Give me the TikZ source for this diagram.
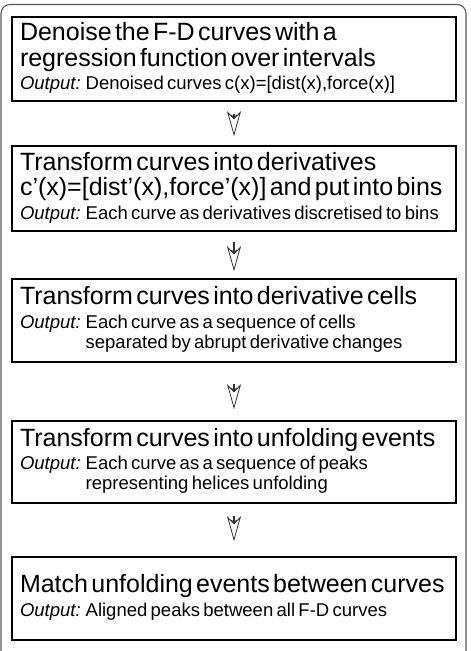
\documentclass[tikz,border=0pt]{standalone}
\usepackage{fontspec}
\setmainfont{Liberation Sans}
\usetikzlibrary{arrows.meta}

\newcommand{\headtext}[1]{{\fontsize{25}{25.5}\selectfont #1\par}\vspace{3.5pt}}
\newcommand{\outtext}[1]{{\fontsize{18.5}{20}\selectfont\textit{Output:} \begin{tabular}[t]{@{}l@{}}#1\end{tabular}\par}}

\begin{document}
\begin{tikzpicture}[x=1pt, y=-1pt]
 \tikzset{
stage/.style = {rectangle, draw=black, line width=1.6pt, minimum width=444pt, text width=428pt, inner xsep=8pt, inner ysep=0pt, align=left},
frame/.style = {draw=black!65, line width=1.1pt, rounded corners=9pt},
flow/.style = {-{Straight Barb[length=2.5pt, width=6pt, sep=-7pt, line width=1pt]Stealth[open, length=25pt, width=14pt, inset=7pt, line width=0.8pt]}, draw=black!80, line width=1.3pt}}

    \clip (0,0) rectangle (471,651);
    \useasboundingbox (0,0) rectangle (471,651);
    \draw [frame] (1,4.5) rectangle (466,690);

    \node [stage] (DN) [minimum height=84pt] at (234,59) {\headtext{Denoise the F-D curves with a\\regression function over intervals}\outtext{Denoised curves c(x)=[dist(x),force(x)]}};
    \node [stage] (DV) [minimum height=85pt] at (234,188.5) {\headtext{Transform curves into derivatives\\c’(x)=[dist’(x),force’(x)] and put into bins}\outtext{Each curve as derivatives discretised to bins}};
    \node [stage] (DC) [minimum height=83pt] at (234,320.5) {\headtext{Transform curves into derivative cells}\outtext{Each curve as a sequence of cells\\separated by abrupt derivative changes}};
    \node [stage] (UE) [minimum height=82pt] at (234,462) {\headtext{Transform curves into unfolding events}\outtext{Each curve as a sequence of peaks\\representing helices unfolding}};
    \node [stage] (MT) [minimum height=83pt] at (234,598.5) {\headtext{Match unfolding events between curves}\outtext{Aligned peaks between all F-D curves}};

    \draw [flow, shorten <=12pt, shorten >=9pt] (DN) -- (DV);
    \draw [flow, shorten <=10pt, shorten >=7pt] (DV) -- (DC);
    \draw [flow, shorten <=21pt, shorten >=11pt] (DC) -- (UE);
    \draw [flow, shorten <=12pt, shorten >=15pt] (UE) -- (MT);

  \end{tikzpicture}
\end{document}
